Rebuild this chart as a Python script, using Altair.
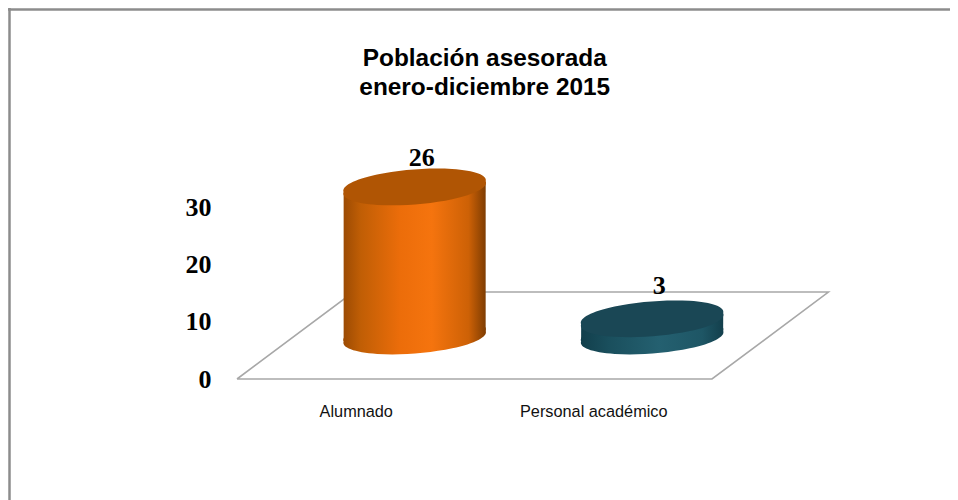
import altair as alt
import pandas as pd

# --- chart values -----------------------------------------------------------
categories = ["Alumnado", "Personal académico"]
values = [26, 3]
slots = [0.5, 1.5]              # centre of each category on the front edge of the floor
y_ticks = [0, 10, 20, 30]
title_lines = ["Población asesorada", "enero-diciembre 2015"]

# 3D look, in data units
depth_x = 0.49                  # floor depth along x
depth_y = 15.17                 # floor depth along y
bar_dx = 0.248                  # bar sits this far behind the category slot
bar_dy = 7.5
half_w = 0.299                  # cylinder half width
tilt = 0.93                     # rise of the ellipse from left side to centre
label_dx = 0.03
label_dy = [5.0, 5.8]

# colours
shades = [
    [("#9c4b03", 0), ("#c05e05", 0.12), ("#ec6d0a", 0.4), ("#f5740e", 0.62),
     ("#cd6106", 0.88), ("#7f3d02", 1)],
    [("#123f4c", 0), ("#1a4f5d", 0.2), ("#246070", 0.55), ("#1e5665", 0.85), ("#133f4c", 1)],
]
tops = ["#b05504", "#1a4755"]
ELLIPSE = "M-1,0.075A1.007,0.226,-4.5,1,1,1,-0.075A1.007,0.226,-4.5,1,1,-1,0.075Z"

W, H = 942, 492
x_scale = alt.Scale(domain=[0, 2], range=[229, 704])
y_scale = alt.Scale(domain=[0, 30], range=[371, 199])
X = lambda axis=None: alt.X("x:Q", scale=x_scale, axis=axis, title=None)
Y = lambda axis=None: alt.Y("y:Q", scale=y_scale, axis=axis, title=None)

label_expr = " : ".join(
    f"datum.value == {s} ? '{c}'" for s, c in zip(slots, categories)
) + " : ''"

# --- floor (carries the axes) ----------------------------------------------
floor = pd.DataFrame({
    "x": [0, 2, 2 + depth_x, depth_x, 0],
    "y": [0, 0, depth_y, depth_y, 0],
    "o": range(5),
})
floor_layer = alt.Chart(floor).mark_line(color="#a8a8a8", strokeWidth=1.6).encode(
    x=X(alt.Axis(values=slots, labelExpr=label_expr, orient="bottom", offset=-(H - 395),
                 domain=False, ticks=False, grid=False, labelPadding=0, labelAngle=0,
                 labelFont="Liberation Sans", labelFontSize=16.3, labelColor="#111111",
                 labelBaseline="top", labelFlush=False)),
    y=Y(alt.Axis(values=y_ticks, orient="left", offset=-203, domain=False, ticks=False,
                 grid=False, labelPadding=0, labelFont="Liberation Serif",
                 labelFontSize=26, labelFontWeight="bold", labelColor="#000000")),
    order="o:O",
)

layers = [floor_layer]

# --- cylinders --------------------------------------------------------------
for i, (cat, val, slot) in enumerate(zip(categories, values, slots)):
    cx = slot + bar_dx
    grad = alt.Gradient(
        gradient="linear", x1=0, x2=1, y1=0, y2=0,
        stops=[alt.GradientStop(color=c, offset=o) for c, o in shades[i]],
    )
    bottom = pd.DataFrame({"x": [cx], "y": [bar_dy]})
    top = pd.DataFrame({"x": [cx], "y": [bar_dy + val]})
    body = pd.DataFrame({
        "x": [cx - half_w, cx + half_w],
        "y": [bar_dy + val - tilt, bar_dy + val + tilt],
        "y0": [bar_dy - tilt, bar_dy + tilt],
    })
    size = (2 * half_w * 237.5) ** 2
    layers.append(alt.Chart(bottom).mark_point(
        shape=ELLIPSE, filled=True, fill=grad, size=size, opacity=1, strokeWidth=0
    ).encode(x=X(), y=Y()))
    layers.append(alt.Chart(body).mark_area(fill=grad, opacity=1).encode(
        x=X(), y=Y(), y2="y0:Q"))
    layers.append(alt.Chart(top).mark_point(
        shape=ELLIPSE, filled=True, fill=tops[i], size=size, opacity=1, strokeWidth=0
    ).encode(x=X(), y=Y()))
    lab = pd.DataFrame({
        "x": [cx + label_dx],
        "y": [bar_dy + val + label_dy[i]],
        "t": [str(val)],
    })
    layers.append(alt.Chart(lab).mark_text(
        font="Liberation Serif", fontSize=26, fontWeight="bold", color="#000000",
        baseline="middle", align="center"
    ).encode(x=X(), y=Y(), text="t:N"))

# --- outer frame: only top and left sides are visible in the picture --------
frame_df = pd.DataFrame({"k": [0]})
left = alt.Chart(frame_df).mark_rule(color="#8c8c8c", strokeWidth=2.5).encode(
    x=alt.value(1.5), y=alt.value(0), y2=alt.value(H))
top_edge = alt.Chart(frame_df).mark_rule(color="#8c8c8c", strokeWidth=2.5).encode(
    y=alt.value(1.5), x=alt.value(0), x2=alt.value(W))
layers += [left, top_edge]

chart = alt.layer(*layers).resolve_axis(x="independent", y="independent").properties(
    width=W, height=H,
    padding=0,
    background="#ffffff",
    autosize=alt.AutoSizeParams(type="none"),
    title=alt.TitleParams(
        text=title_lines, orient="top", anchor="start", align="center", dx=478,
        offset=-94, font="Liberation Sans", fontSize=24.4, fontWeight="bold",
        color="#000000", lineHeight=29,
    ),
).configure_view(stroke=None)

chart.save("out.html", embed_options={"renderer": "svg", "actions": False})
